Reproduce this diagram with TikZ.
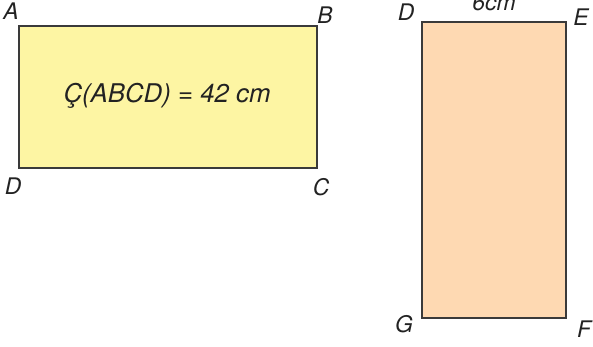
\documentclass[tikz,border=0pt]{standalone}
\usepackage{fontspec}
\setmainfont{TeX Gyre Heros}
\usepackage{xcolor}
\usepackage{tikz}
\usetikzlibrary{calc}
\definecolor{bg}{HTML}{FFFFFF}
\definecolor{edge}{HTML}{3A3A3A}
\definecolor{text}{HTML}{222222}
\definecolor{lemon}{HTML}{FDF5A3}
\definecolor{peach}{HTML}{FED9B2}
\tikzset{
  rectA/.style={draw=edge, fill=lemon, line width=1.3pt},
  rectB/.style={draw=edge, fill=peach, line width=1.3pt},
  lab/.style={text=text, inner sep=0pt, font=\fontsize{19.5}{22}\selectfont\itshape},
  big/.style={text=text, inner sep=0pt, font=\fontsize{22}{26}\selectfont\itshape},
}

\begin{document}
\begin{tikzpicture}[x=0.03cm, y=-0.03cm]
  \useasboundingbox (0,0) rectangle (593,347);
  % left rectangle
  \coordinate (A) at (19,26);
  \coordinate (B) at (317,26);
  \coordinate (C) at (317,168);
  \coordinate (D) at (19,168);
  \draw[rectA] (A) -- (B) -- (C) -- (D) -- cycle;
  \node[big] (per) at ($(A)!0.5!(C)+(-1,-1)$) {Ç(ABCD) = 42 cm};
  \node[lab] (la) at (11,11) {A};
  \node[lab] (lb) at (325,15) {B};
  \node[lab] (ld) at (13,186) {D};
  \node[lab] (lc) at (321,187) {C};
  % right rectangle
  \coordinate (D2) at (422,22);
  \coordinate (E) at (566,22);
  \coordinate (F) at (566,318);
  \coordinate (G) at (422,318);
  \draw[rectB] (D2) -- (E) -- (F) -- (G) -- cycle;
  \node[lab] (ld2) at (406,12) {D};
  \node[lab] (le) at (581,17) {E};
  \node[lab] (lg) at (404,324) {G};
  \node[lab] (lf) at (584,329) {F};
  \node[lab] (side) at (494,3) {6cm};
\end{tikzpicture}
\end{document}
